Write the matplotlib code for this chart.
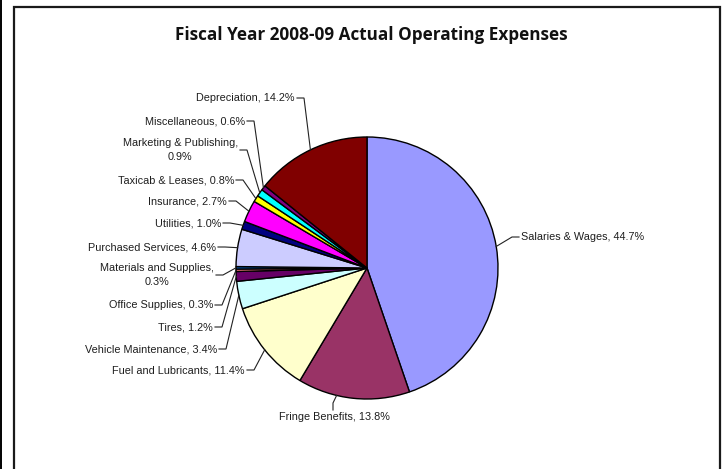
import numpy as np
import matplotlib
matplotlib.use("Agg")
import matplotlib.pyplot as plt
from matplotlib.patches import Rectangle
from matplotlib.lines import Line2D

# ---- data ----
categories = ["Salaries & Wages", "Fringe Benefits", "Fuel and Lubricants",
              "Vehicle Maintenance", "Tires", "Office Supplies",
              "Materials and Supplies", "Purchased Services", "Utilities",
              "Insurance", "Taxicab & Leases", "Marketing & Publishing",
              "Miscellaneous", "Depreciation"]
values = [44.7, 13.8, 11.4, 3.4, 1.2, 0.3, 0.3, 4.6, 1.0, 2.7, 0.8, 0.9, 0.6, 14.2]
colors = ["#9999FF", "#993366", "#FFFFCC", "#CCFFFF", "#660066", "#FF8080",
          "#0066CC", "#CCCCFF", "#000080", "#FF00FF", "#FFFF00", "#00FFFF",
          "#800080", "#800000"]
title = "Fiscal Year 2008-09 Actual Operating Expenses"
wrapped = {"Marketing & Publishing", "Materials and Supplies"}

# ---- layout (pixel coords, y measured from top) ----
W, H = 724, 469
cx, cy, R = 367, 268, 131
# (anchor x, anchor y, side) side: 'L' = text to left of anchor, 'R' = right, 'B' = below
label_pos = {
    "Salaries & Wages": (521, 237, 'R'),
    "Fringe Benefits": (334, 417, 'B'),
    "Fuel and Lubricants": (245, 370, 'L'),
    "Vehicle Maintenance": (217, 349, 'L'),
    "Tires": (213, 327, 'L'),
    "Office Supplies": (213, 305, 'L'),
    "Materials and Supplies": (214, 275, 'L'),
    "Purchased Services": (216, 247, 'L'),
    "Utilities": (221, 223, 'L'),
    "Insurance": (227, 201, 'L'),
    "Taxicab & Leases": (234, 180, 'L'),
    "Marketing & Publishing": (238, 150, 'L'),
    "Miscellaneous": (245, 121, 'L'),
    "Depreciation": (295, 98, 'L'),
}
leader_frac = {"Fringe Benefits": 0.65}

fig = plt.figure(figsize=(W / 100, H / 100), dpi=100)
ax = fig.add_axes([0, 0, 1, 1])

def Y(y):
    return H - y

ax.pie(values, colors=colors, startangle=90, counterclock=False,
       center=(cx, Y(cy)), radius=R,
       wedgeprops=dict(edgecolor="black", linewidth=1.0))
ax.set_xlim(0, W)
ax.set_ylim(0, H)
ax.set_aspect("auto")
ax.axis("off")

total = sum(values)
cum = np.concatenate([[0], np.cumsum(values)]) / total * 360.0
txt_kw = dict(fontsize=7.8, color="#1e1e1e", family=["Liberation Sans", "DejaVu Sans"],
              linespacing=1.45)
lc = "#222222"
for i, cat in enumerate(categories):
    f = leader_frac.get(cat, 0.5)
    ang = np.radians(cum[i] + f * (cum[i + 1] - cum[i]))
    px = cx + R * np.sin(ang)
    py = cy - R * np.cos(ang)
    lab = f"{cat},{chr(10) if cat in wrapped else ' '}{values[i]:.1f}%"
    ax_, ay_, side = label_pos[cat]
    if side == 'L':
        ax.text(ax_, Y(ay_), lab, ha="right", va="center", multialignment="center", **txt_kw)
        ex = ax_ + 9
        xs, ys = [ax_ + 2, ex, px], [ay_, ay_, py]
    elif side == 'R':
        ax.text(ax_, Y(ay_), lab, ha="left", va="center", **txt_kw)
        ex = ax_ - 9
        xs, ys = [ax_ - 2, ex, px], [ay_, ay_, py]
    else:
        ax.text(ax_, Y(ay_), lab, ha="center", va="center", **txt_kw)
        xs, ys = [ax_ - 1, ax_ - 1, px], [ay_ - 7, ay_ - 14, py]
    ax.plot(xs, [Y(v) for v in ys], color=lc, linewidth=0.8, solid_joinstyle="miter")

ax.text(371, Y(35), title, ha="center", va="center", fontsize=12.3,
        fontweight="bold", family=["Open Sans", "DejaVu Sans"], color="#111111")

# chart frame
ax.add_patch(Rectangle((13.5, Y(H + 20)), 706, H + 13, fill=False,
                       edgecolor="#1a1a1a", linewidth=1.6, clip_on=False))
ax.add_line(Line2D([0.8, 0.8], [0, H], color="black", linewidth=1.4))

fig.savefig("out.png", dpi=100)
